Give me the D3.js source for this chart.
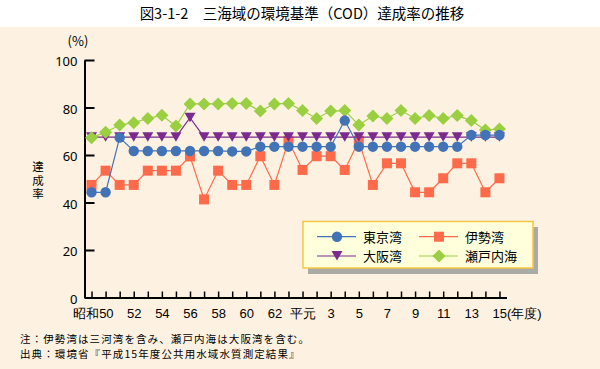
<!DOCTYPE html>
<html><head><meta charset="utf-8">
<script src="https://cdn.jsdelivr.net/npm/d3@7"></script>
<style>
html,body{margin:0;padding:0;background:#fff;}
svg{display:block;font-family:"Noto Sans CJK JP","Noto Sans",sans-serif;}
</style></head>
<body>
<svg id="chart" width="600" height="369"></svg>
<script>
// ---- data ----
const years = d3.range(1974, 2004); // 昭和49 .. 平成15
const tickLabels = ["", "昭和50", "", "52", "", "54", "", "56", "", "58", "", "60", "", "62", "", "平元",
  "", "3", "", "5", "", "7", "", "9", "", "11", "", "13", "", "15(年度)"];
const tokyo = [44.3, 44.3, 67.3, 61.7, 61.7, 61.7, 61.7, 61.7, 61.7, 61.7, 61.5, 61.5, 63.5, 63.5, 63.5,
  63.5, 63.5, 63.5, 74.5, 63.5, 63.5, 63.5, 63.5, 63.5, 63.5, 63.5, 63.5, 68.4, 68.4, 68.4];
const ise = [47.4, 53.4, 47.4, 47.4, 53.4, 53.4, 53.4, 59.4, 41.3, 53.4, 47.4, 47.4, 59.5, 47.4, 66.0,
  53.7, 59.5, 59.5, 53.7, 66.0, 47.4, 56.5, 56.5, 44.3, 44.3, 50.2, 56.5, 56.5, 44.3, 50.2];
const osaka = [67.5, 67.5, 67.5, 67.5, 67.5, 67.5, 67.5, 75.7, 67.5, 67.5, 67.5, 67.5, 67.5, 67.5, 67.5,
  67.5, 67.5, 67.5, 67.5, 67.5, 67.5, 67.5, 67.5, 67.5, 67.5, 67.5, 67.5, 67.5, 67.5, 67.5];
const seto = [67.3, 69.6, 72.6, 73.6, 75.4, 76.7, 72.2, 81.5, 81.5, 81.5, 81.7, 81.7, 78.5, 81.5, 81.7,
  78.7, 75.4, 78.5, 78.7, 72.6, 76.4, 75.4, 78.7, 75.4, 76.6, 75.4, 76.6, 74.5, 70.5, 71.0];
const yTicks = [0, 20, 40, 60, 80, 100];

const title = "図3-1-2　三海域の環境基準（COD）達成率の推移";
const notes = ["注：伊勢湾は三河湾を含み、瀬戸内海は大阪湾を含む。",
  "出典：環境省『平成15年度公共用水域水質測定結果』"];

// ---- drawing ----
const svg = d3.select("#chart");
svg.append("rect").attr("x", 0).attr("y", 0).attr("width", 600).attr("height", 369).attr("fill", "#ffffff");
svg.append("rect").attr("x", 0).attr("y", 27).attr("width", 600).attr("height", 342).attr("fill", "#FDF2E1");

svg.append("text").attr("x", 302).attr("y", 19).attr("text-anchor", "middle")
  .attr("font-size", 14.5).attr("fill", "#000").text(title);

const x = d3.scalePoint().domain(years).range([84.5, 506.5]).padding(0.5);
const y = d3.scaleLinear().domain([0, 100]).range([297.5, 60]);

// y axis
const ya = svg.append("g").attr("transform", "translate(84.5,0)")
  .call(d3.axisLeft(y).tickValues(yTicks).tickSizeInner(-10).tickSizeOuter(0).tickPadding(7));
ya.select(".domain").attr("stroke", "#000").attr("stroke-width", 2);
ya.selectAll(".tick line").attr("stroke", "#000").attr("stroke-width", 2);
ya.selectAll(".tick text").attr("font-size", 13).attr("fill", "#000")
  .attr("font-family", "'Noto Sans','Noto Sans CJK JP',sans-serif").attr("dy", "0.45em");

// x axis
const xa = svg.append("g").attr("transform", "translate(0,297.5)")
  .call(d3.axisBottom(x).tickSizeInner(-6).tickSizeOuter(0).tickPadding(11)
    .tickFormat((d, i) => tickLabels[i]));
xa.select(".domain").attr("stroke", "#000").attr("stroke-width", 2);
xa.selectAll(".tick line").attr("stroke", "#000").attr("stroke-width", 1.5);
xa.selectAll(".tick text").attr("font-size", 13).attr("fill", "#000");
xa.selectAll(".tick text").filter((d, i) => i === 1).attr("text-anchor", "end").attr("dx", 7.5);
xa.selectAll(".tick text").filter((d, i) => i === 29).attr("text-anchor", "start").attr("dx", -7.5);

// (%) and y title
svg.append("text").attr("x", 78).attr("y", 46).attr("text-anchor", "middle")
  .attr("font-size", 13).attr("fill", "#000").text("(%)");
svg.append("text").attr("x", 38).attr("y", 161)
  .style("writing-mode", "vertical-rl").style("letter-spacing", "2px")
  .attr("font-size", 11.5).attr("fill", "#000").text("達成率");

// markers
function triDown(g) { return g.append("path").attr("d", "M-5.5,-5 L5.5,-5 L0,4.5 Z"); }
function square(g) { return g.append("rect").attr("x", -5).attr("y", -5).attr("width", 10).attr("height", 10); }
function diamond(g) { return g.append("path").attr("d", "M0,-6.5 L6.5,0 L0,6.5 L-6.5,0 Z"); }
function circle(g) { return g.append("circle").attr("r", 5.2); }

const series = [
  { name: "伊勢湾", values: ise, color: "#FF6A4B", marker: square },
  { name: "大阪湾", values: osaka, color: "#7B2A8E", marker: triDown },
  { name: "瀬戸内海", values: seto, color: "#99CF40", marker: diamond },
  { name: "東京湾", values: tokyo, color: "#4273B6", marker: circle }
];

const line = d3.line().x((d, i) => x(years[i])).y(d => y(d));
series.forEach(s => {
  const g = svg.append("g");
  g.append("path").attr("d", line(s.values)).attr("fill", "none")
    .attr("stroke", s.color).attr("stroke-width", 1.2);
  s.values.forEach((v, i) => {
    const mg = g.append("g").attr("transform", `translate(${x(years[i])},${y(v)})`);
    s.marker(mg).attr("fill", s.color);
  });
});

// legend
const lg = svg.append("g");
lg.append("rect").attr("x", 308).attr("y", 227).attr("width", 230).attr("height", 47).attr("fill", "#A9ACA4");
lg.append("rect").attr("x", 303).attr("y", 221.5).attr("width", 230).attr("height", 46.5)
  .attr("fill", "#FFFFDC").attr("stroke", "#F6C643").attr("stroke-width", 1.5);
const legendItems = [
  { s: series[3], lx: 317, ty: 236.7 },
  { s: series[1], lx: 317, ty: 256 },
  { s: series[0], lx: 419, ty: 236.7 },
  { s: series[2], lx: 419, ty: 256 }
];
legendItems.forEach(it => {
  lg.append("line").attr("x1", it.lx).attr("x2", it.lx + 39).attr("y1", it.ty).attr("y2", it.ty)
    .attr("stroke", it.s.color).attr("stroke-width", 1.2);
  const mg = lg.append("g").attr("transform", `translate(${it.lx + 20},${it.ty})`);
  it.s.marker(mg).attr("fill", it.s.color);
  lg.append("text").attr("x", it.lx + 46).attr("y", it.ty + 5).attr("font-size", 13)
    .attr("fill", "#000").text(it.s.name);
});

// notes
notes.forEach((t, i) => svg.append("text").attr("x", 20).attr("y", 342.5 + i * 15.3)
  .attr("font-size", 10.5).style("letter-spacing", "1.1px").attr("fill", "#000").text(t));
</script>
</body></html>
